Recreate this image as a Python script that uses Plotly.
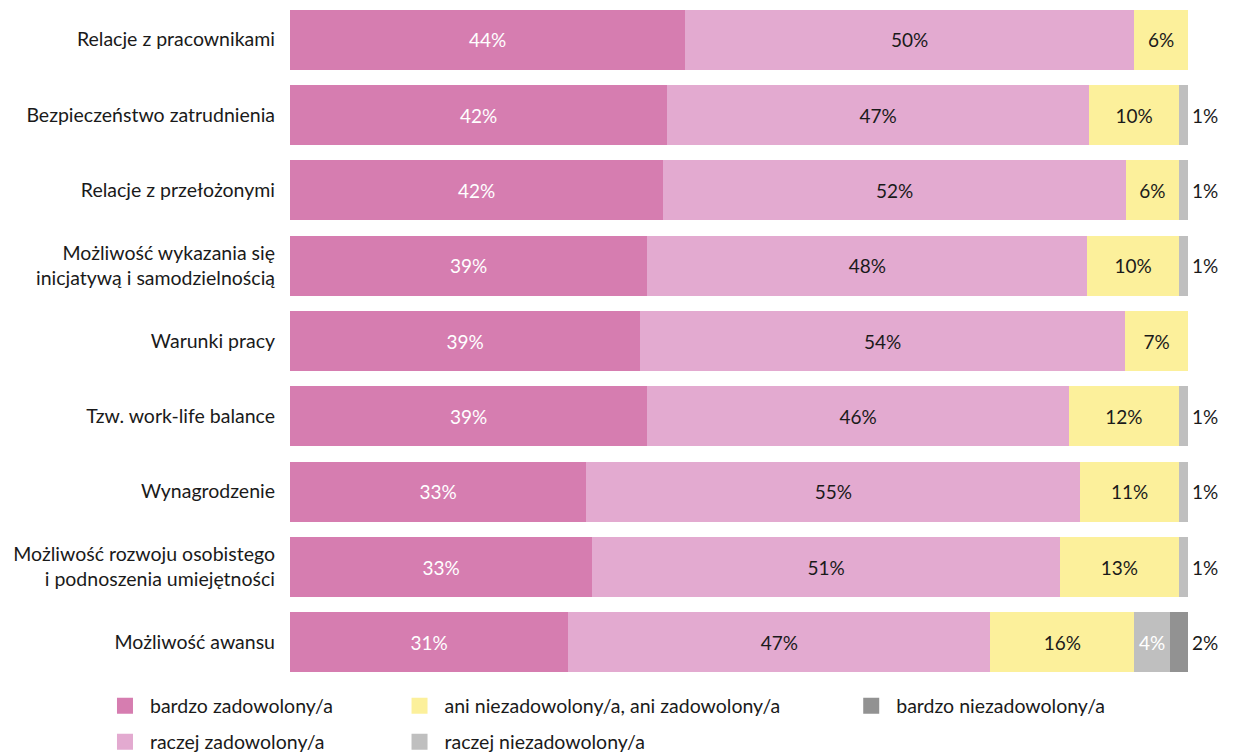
import plotly.graph_objects as go

categories = [
    "Relacje z pracownikami",
    "Bezpieczeństwo zatrudnienia",
    "Relacje z przełożonymi",
    "Możliwość wykazania się<br>inicjatywą i samodzielnością",
    "Warunki pracy",
    "Tzw. work-life balance",
    "Wynagrodzenie",
    "Możliwość rozwoju osobistego<br>i podnoszenia umiejętności",
    "Możliwość awansu",
]

series_names = [
    "bardzo zadowolony/a",
    "raczej zadowolony/a",
    "ani niezadowolony/a, ani zadowolony/a",
    "raczej niezadowolony/a",
    "bardzo niezadowolony/a",
]

bardzo_zadowolony = [44, 42, 42, 39, 39, 39, 33, 33, 31]
raczej_zadowolony = [50, 47, 52, 48, 54, 46, 55, 51, 47]
ani_ani = [6, 10, 6, 10, 7, 12, 11, 13, 16]
raczej_niezadowolony = [0, 1, 1, 1, 0, 1, 1, 1, 4]
bardzo_niezadowolony = [0, 0, 0, 0, 0, 0, 0, 0, 2]

colors = ["#D67DB0", "#E3AAD0", "#FCF09B", "#BFBFBF", "#929292"]
text_colors = ["#FFFFFF", "#1A1A1A", "#1A1A1A", "#FFFFFF", "#1A1A1A"]

FONT = "Lato"
FS = 19.5
FS_NUM = 19

all_series = [bardzo_zadowolony, raczej_zadowolony, ani_ani,
              raczej_niezadowolony, bardzo_niezadowolony]

fig = go.Figure()

# stacked segments (normalised to 100% per row)
for i, (name, vals) in enumerate(zip(series_names, all_series)):
    labels = [f"{v}%" if v >= 3 else "" for v in vals]
    fig.add_trace(go.Bar(
        y=categories, x=vals, name=name, orientation="h",
        marker=dict(color=colors[i], line=dict(width=0)),
        text=labels, textposition="inside", insidetextanchor="middle",
        textfont=dict(family=FONT, size=FS_NUM, color=text_colors[i]),
        constraintext="none",
        hoverinfo="skip", showlegend=False,
    ))

# small negative shares are written to the right of the bar
for k, cat in enumerate(categories):
    small = [v for v in (raczej_niezadowolony[k], bardzo_niezadowolony[k]) if 0 < v < 3]
    if small:
        fig.add_annotation(
            x=100, y=cat, xref="x", yref="y", text=f"{small[-1]}%",
            showarrow=False, xanchor="left", xshift=2,
            font=dict(family=FONT, size=FS_NUM, color="#1A1A1A"),
        )

# legend: one entry per legend box so the columns sit where they should
legend_pos = [
    ("legend", -0.2116, -0.0383),
    ("legend2", -0.2116, -0.0914),
    ("legend3", 0.1164, -0.0383),
    ("legend4", 0.1164, -0.0914),
    ("legend5", 0.6194, -0.0383),
]
for i, name in enumerate(series_names):
    fig.add_trace(go.Scatter(
        x=[None], y=[None], mode="markers", name=name,
        marker=dict(symbol="square", size=16, color=colors[i]),
        legend=legend_pos[i][0], showlegend=True, hoverinfo="skip",
    ))

layout_legends = {}
for key, lx, ly in legend_pos:
    layout_legends[key] = dict(
        x=lx, y=ly, xanchor="left", yanchor="middle",
        orientation="v", bgcolor="rgba(0,0,0,0)", itemwidth=40,
        font=dict(family=FONT, size=FS, color="#1A1A1A"),
        itemclick=False, itemdoubleclick=False,
    )

fig.update_layout(
    barmode="stack", barnorm="percent", bargap=0.2,
    width=1234, height=754,
    margin=dict(l=290, r=46, t=1.5, b=74, autoexpand=False),
    paper_bgcolor="white", plot_bgcolor="white",
    font=dict(family=FONT, size=FS, color="#1A1A1A"),
    xaxis=dict(range=[0, 100], visible=False, fixedrange=True),
    yaxis=dict(
        categoryorder="array", categoryarray=categories,
        autorange="reversed", showgrid=False, zeroline=False,
        showline=False, ticks="", ticklabelstandoff=14,
        tickfont=dict(family=FONT, size=FS, color="#1A1A1A"),
        fixedrange=True,
    ),
    **layout_legends,
)

fig.write_html("out.html")
